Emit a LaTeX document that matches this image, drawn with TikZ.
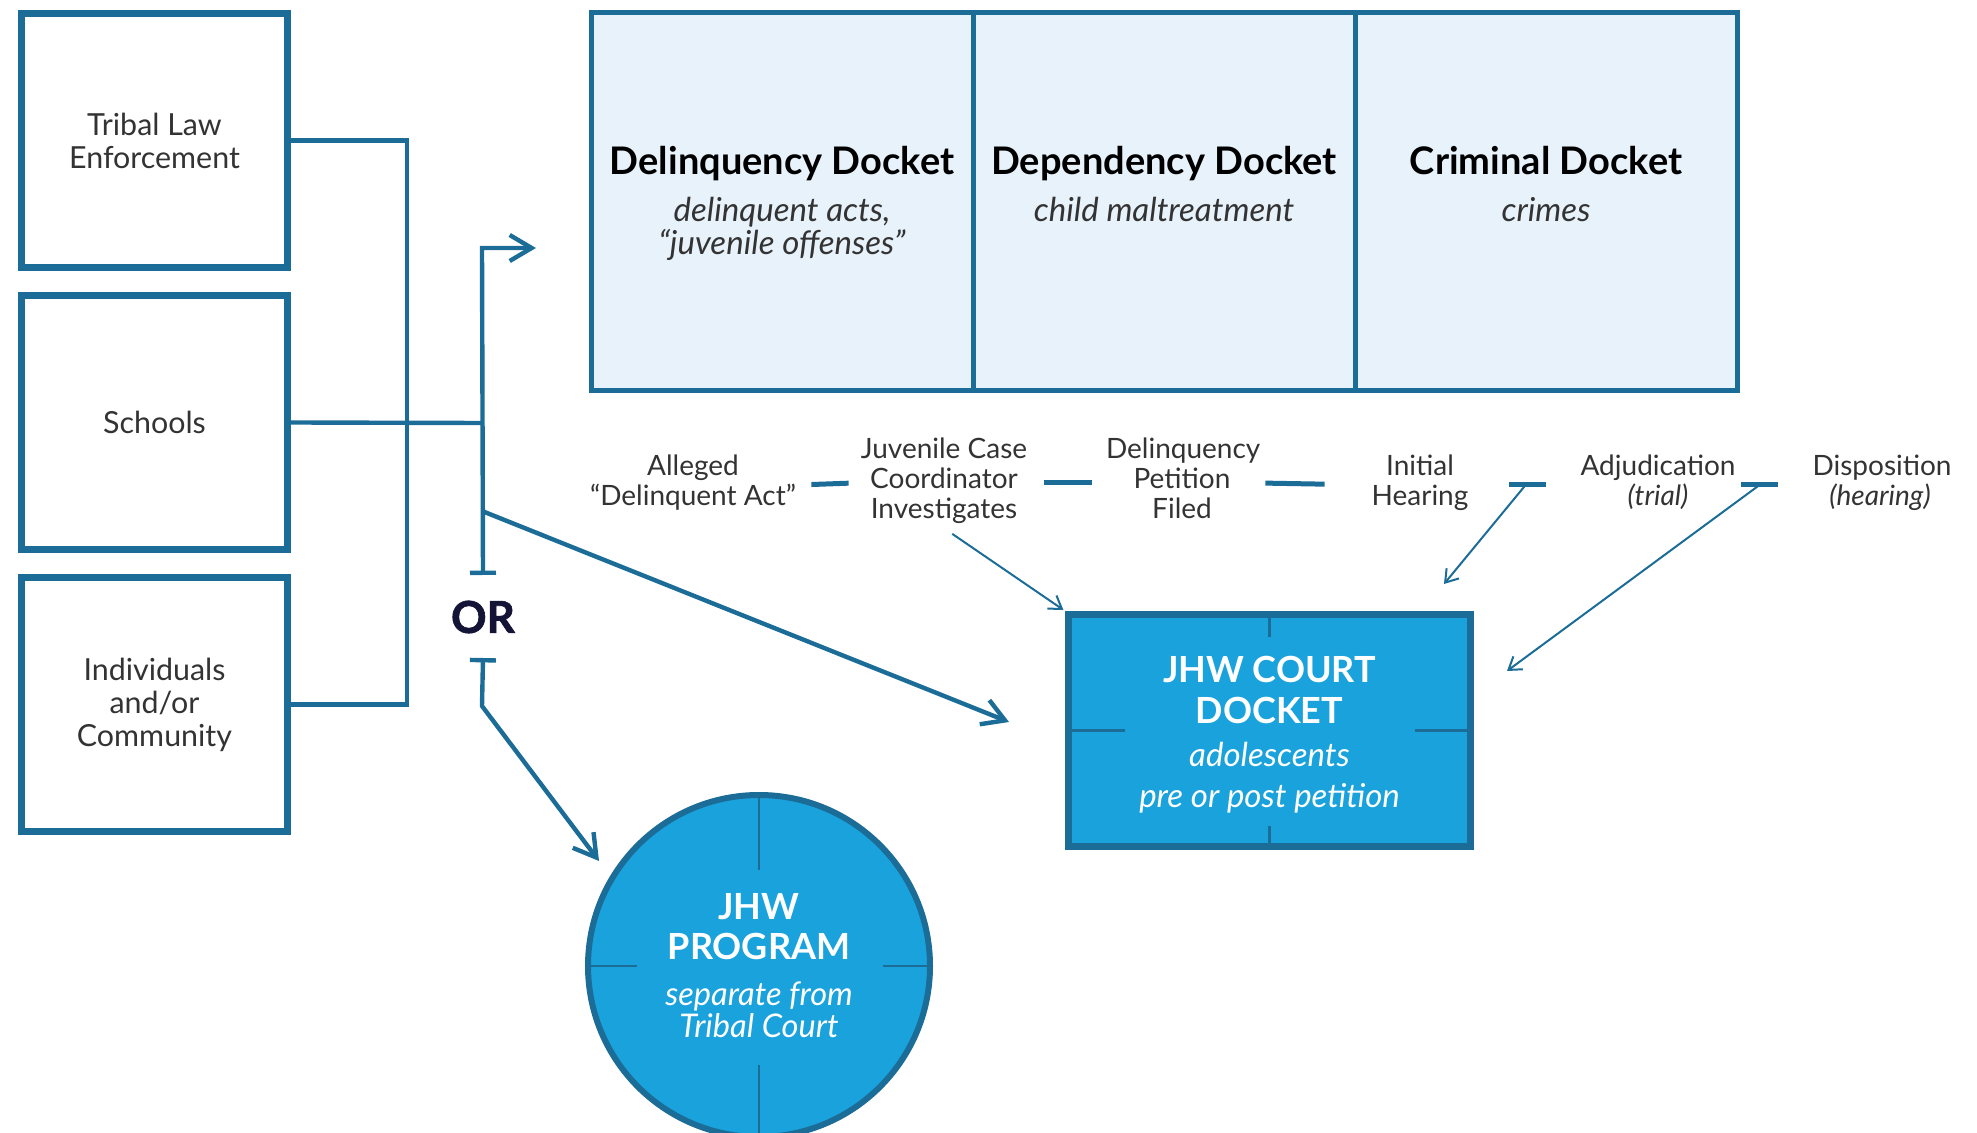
\documentclass[tikz,border=0pt]{standalone}
\usepackage{fontspec}
\setmainfont{Lato}
\usepackage{tikz}
\usetikzlibrary{positioning,arrows.meta}

\definecolor{jhwline}{HTML}{1C6C98}
\definecolor{jhwpale}{HTML}{E7F2FB}
\definecolor{jhwfill}{HTML}{1AA2DC}
\definecolor{jhwnavy}{HTML}{141436}
\definecolor{jhwtext}{HTML}{333333}

\tikzset{
  srcbox/.style={draw=jhwline, line width=3.5pt, minimum width=133pt, minimum height=127pt, align=center, text=jhwtext, font=\fontsize{15.2}{16.5}\selectfont},
  docketbox/.style={draw=jhwline, fill=jhwpale, line width=2.5pt, outer sep=0pt, minimum width=191pt, minimum height=189pt, inner sep=0pt},
  doctitle/.style={text=black, execute at begin node=\strut, font=\fontsize{19}{22}\selectfont\bfseries},
  docsub/.style={align=center, inner sep=0pt, text=jhwtext, execute at begin node=\strut, font=\fontsize{16.5}{16.5}\selectfont\itshape},
  stepnode/.style={align=flush center, inner sep=0pt, text=jhwtext, execute at end node=\strut, font=\fontsize{14}{15}\selectfont},
  dashline/.style={jhwline, line width=2.5pt},
  link/.style={jhwline, line width=2.2pt},
  bigtip/.style={-{Straight Barb[length=11pt, width=13pt]}},
  bartip/.style={{Bar[width=13pt]}-{Straight Barb[length=11pt, width=13pt]}},
  thinarrow/.style={jhwline, line width=1pt, -{Straight Barb[length=6pt, width=8pt]}},
  tick/.style={jhwline, line width=1.2pt},
  courtbox/.style={draw=jhwline, fill=jhwfill, line width=3.5pt, minimum width=201pt, minimum height=116pt},
  courttext/.style={align=center, inner sep=0pt, text=white, font=\fontsize{16.5}{20.5}\selectfont},
  progcircle/.style={circle, draw=jhwline, fill=jhwfill, line width=3pt, minimum size=171pt, align=center, inner sep=0pt, text=white, font=\fontsize{16.3}{16}\selectfont},
  ornode/.style={text=jhwnavy, font=\fontsize{22}{24}\selectfont\bfseries\addfontfeatures{FakeBold=1.5}}
}

\begin{document}
\begin{tikzpicture}[x=0.5pt, y=-0.5pt]
\useasboundingbox (0,0) rectangle (1977,1133);

\node[srcbox] at (154.5,140.5)(tle){Tribal Law\\Enforcement};
\node[srcbox, below=10.5pt of tle](sch){Schools};
\node[srcbox, below=10.5pt of sch](ind){Individuals\\and/or\\Community};

\node[docketbox] at (782.5,201.5)(del){};
\node[docketbox, right=0pt of del](dep){};
\node[docketbox, right=0pt of dep](cri){};

\node[doctitle] at (782,165.5)(delt){Delinquency Docket};
\node[docsub, below=1pt of delt](dels){delinquent acts,\\“juvenile offenses”};
\node[doctitle] at (1164,165.5)(dept){Dependency Docket};
\node[docsub, below=1pt of dept](deps){child maltreatment};
\node[doctitle] at (1546,165.5)(crit){Criminal Docket};
\node[docsub, below=1pt of crit](cris){crimes};

\node[stepnode, text width=105pt] at (693,485)(all){Alleged\\“Delinquent Act”};
\node[stepnode, text width=90pt] at (944,483)(juv){Juvenile Case\\Coordinator\\Investigates};
\node[stepnode, text width=76pt] at (1182,483)(pet){Delinquency\\Petition\\Filed};
\node[stepnode, text width=48.5pt] at (1420,485)(ih){Initial\\Hearing};
\node[stepnode, text width=77.5pt] at (1658,485)(adj){Adjudication\\\textit{(trial)}};
\node[stepnode, text width=67.5pt] at (1880,485)(dis){Disposition\\\textit{(hearing)}};

\foreach \a/\b/\s/\e in {all/juv/6.5/2.5, juv/pet/5/7, pet/ih/3.5/23.25, ih/adj/20.25/17.25, adj/dis/2.75/17.25}
  \draw[dashline, shorten <=\s pt, shorten >=\e pt] (\a.east) -- (\b.west);
\path (ih.east) -- coordinate[pos=.51](d4) (adj.west);
\path (adj.east) -- coordinate[pos=.31](d5) (dis.west);

\node[courtbox] at (1269.5,730.5)(court){};
\node[courttext] at ([yshift=-2pt]court.center)(courtlbl){{\fontsize{18}{20.5}\selectfont\bfseries JHW COURT}\\{\fontsize{18}{20.5}\selectfont\bfseries DOCKET}\\[1.1pt]\textit{adolescents}\\\textit{pre or post petition}};
\draw[tick] (court.north) -- ++(0,26);
\draw[tick] (court.south) -- ++(0,-24);
\draw[tick] (court.west) -- ++(60,0);
\draw[tick] (court.east) -- ++(-59,0);

\node[progcircle] at (759,966)(prog){{\fontsize{18}{20}\selectfont\bfseries JHW}\\[4pt]{\fontsize{18}{20}\selectfont\bfseries PROGRAM}\\[7pt]\textit{separate from}\\\textit{Tribal Court}};
\draw[tick] (prog.north) -- ++(0,78);
\draw[tick] (prog.south) -- ++(0,-75);
\draw[tick] (prog.west) -- ++(52,0);
\draw[tick] (prog.east) -- ++(-50,0);

\node[ornode] at (483,617)(or){OR};

\coordinate (brk) at (407,0);
\coordinate (fork) at (482,423);
\coordinate (upturn) at (482,248);
\coordinate (dkin) at (536,248);
\coordinate (split) at (482,511);
\coordinate (courtin) at (1009,722);
\coordinate (bend) at (482,706);
\coordinate (progin) at (599,861);
\coordinate (ihtip) at (1444,584);
\coordinate (adjtip) at (1507,671);

\draw[link] (tle.east) -| (brk |- ind.east) -- (ind.east);
\draw[link] (sch.east) -- (fork);
\draw[link, bartip] ([yshift=21pt]or.center) -- (upturn) -- (dkin);
\draw[link, bigtip] (split) -- (courtin);
\draw[link, bartip] ([yshift=-20.5pt]or.center) -- (bend) -- (progin);

\draw[thinarrow, shorten <=5pt, shorten >=1pt] (juv.south) -- (court.north west);
\draw[thinarrow] (d4) -- (ihtip);
\draw[thinarrow] (d5) -- (adjtip);
\end{tikzpicture}
\end{document}
